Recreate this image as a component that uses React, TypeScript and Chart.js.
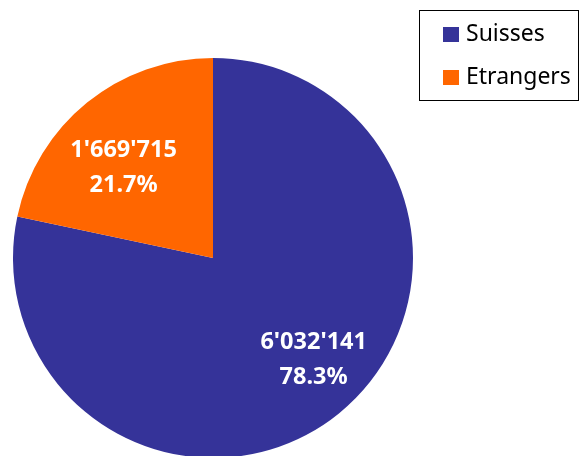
import React, { useEffect, useRef } from "react";
import { Chart, registerables } from "chart.js";

Chart.register(...registerables);

const categories = ["Suisses", "Etrangers"];
const values = [6032141, 1669715];
const valueLabels = ["6'032'141", "1'669'715"];
const percentLabels = ["78.3%", "21.7%"];
const colors = ["#353399", "#FF6600"];

const labelPlugin = {
  id: "sliceLabels",
  afterDatasetsDraw(chart: any) {
    const ctx = chart.ctx;
    const meta = chart.getDatasetMeta(0);
    const radiusRatio = [0.715, 0.635];
    ctx.save();
    ctx.fillStyle = "#ffffff";
    ctx.font = "bold 23.5px 'Noto Sans'";
    ctx.textAlign = "center";
    ctx.textBaseline = "middle";
    meta.data.forEach((arc: any, i: number) => {
      const p = arc.getProps(["x", "y", "startAngle", "endAngle", "outerRadius"], true);
      const mid = (p.startAngle + p.endAngle) / 2 - 0.1;
      const d = p.outerRadius * radiusRatio[i];
      const cx = p.x + Math.cos(mid) * d;
      const cy = p.y + Math.sin(mid) * d;
      ctx.fillText(valueLabels[i], cx, cy - 17.5);
      ctx.fillText(percentLabels[i], cx, cy + 18);
    });
    ctx.restore();
  },
};

const legendPlugin = {
  id: "boxLegend",
  afterDraw(chart: any) {
    const ctx = chart.ctx;
    ctx.save();
    ctx.strokeStyle = "#000000";
    ctx.lineWidth = 1;
    ctx.strokeRect(419.5, 10.5, 159, 90);
    ctx.font = "23px 'Noto Sans'";
    ctx.textAlign = "left";
    ctx.textBaseline = "middle";
    categories.forEach((c, i) => {
      const y = 34.5 + i * 43;
      ctx.fillStyle = colors[i];
      ctx.fillRect(443, y - 7.5, 16, 15);
      ctx.fillStyle = "#000000";
      ctx.fillText(c, 466, y);
    });
    ctx.restore();
  },
};

export default function App() {
  const ref = useRef<HTMLCanvasElement>(null);
  useEffect(() => {
    document.body.style.margin = "0";
    const chart = new Chart(ref.current as HTMLCanvasElement, {
      type: "pie",
      data: {
        labels: categories,
        datasets: [
          {
            data: values,
            backgroundColor: colors,
            borderWidth: 0,
          },
        ],
      },
      options: {
        responsive: false,
        animation: false,
        layout: { padding: { left: 13, right: 167, top: 58, bottom: 2 } },
        plugins: {
          legend: { display: false },
          tooltip: { enabled: false },
        },
      },
      plugins: [labelPlugin, legendPlugin],
    });
    return () => chart.destroy();
  }, []);
  return (
    <div style={{ width: 580, height: 456, overflow: "hidden", position: "relative" }}>
      <canvas ref={ref} width={580} height={460} style={{ display: "block" }} />
    </div>
  );
}
